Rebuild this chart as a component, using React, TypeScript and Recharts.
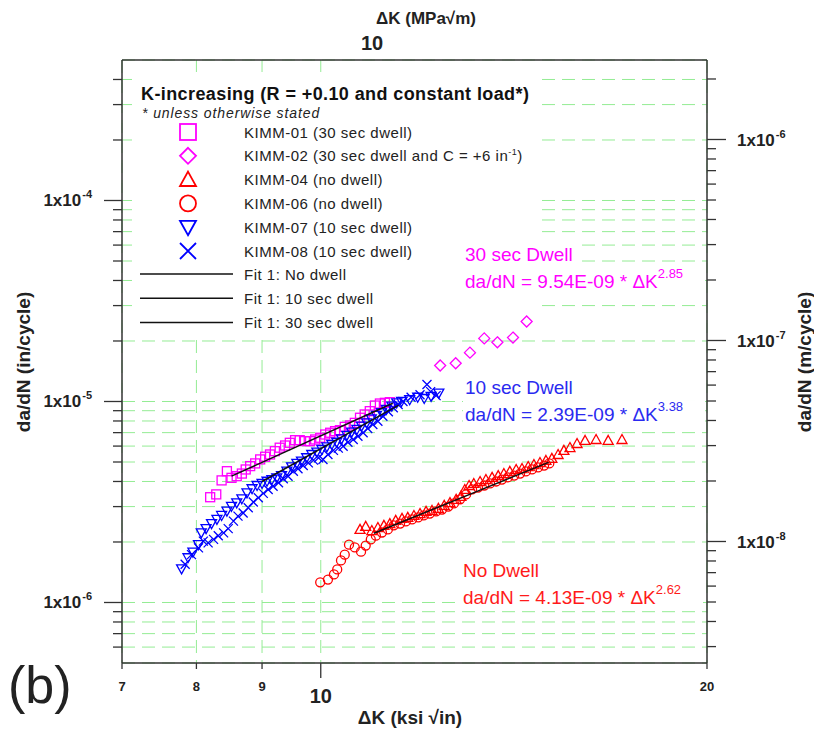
import React from 'react';
import { CartesianGrid, ComposedChart, Scatter, XAxis, YAxis } from 'recharts';

const FONT = '"Liberation Sans", Arial, sans-serif';
const MAGENTA = '#ff00ff';
const RED = '#ff0000';
const BLUE = '#0000ff';
const GRID = '#94ec94';
const AXIS = '#333';

// ΔK (ksi√in), da/dN (in/cycle)
const kimm01: [number, number][] = [
  [8.2, 3.34e-6], [8.29, 3.45e-6], [8.37, 4.05e-6], [8.45, 4.5e-6], [8.52, 4.17e-6],
  [8.6, 4.25e-6], [8.68, 4.38e-6], [8.74, 4.59e-6], [8.81, 4.77e-6], [8.89, 4.92e-6],
  [8.97, 5.15e-6], [9.05, 5.31e-6], [9.13, 5.45e-6], [9.21, 5.66e-6], [9.29, 5.89e-6],
  [9.38, 6.04e-6], [9.46, 6.23e-6], [9.55, 6.42e-6], [9.63, 6.42e-6], [9.72, 6.35e-6],
  [9.81, 6.35e-6], [9.9, 6.47e-6], [9.99, 6.6e-6], [10.08, 6.85e-6], [10.17, 6.99e-6],
  [10.26, 7.12e-6], [10.35, 7.2e-6], [10.44, 7.48e-6], [10.54, 7.6e-6], [10.63, 7.83e-6],
  [10.73, 8.3e-6], [10.82, 8.62e-6], [10.92, 8.95e-6], [11.02, 9.55e-6], [11.12, 9.77e-6],
  [11.22, 9.85e-6], [11.32, 9.92e-6],
];

const kimm02: [number, number][] = [
  [12.39, 1.51e-5], [12.74, 1.55e-5], [13.07, 1.75e-5], [13.41, 2.06e-5],
  [13.73, 1.97e-5], [14.12, 2.08e-5], [14.47, 2.5e-5],
];

const kimm04: [number, number][] = [
  [10.73, 2.31e-6], [10.84, 2.39e-6], [10.96, 2.28e-6], [11.08, 2.36e-6], [11.2, 2.42e-6],
  [11.32, 2.47e-6], [11.44, 2.56e-6], [11.57, 2.62e-6], [11.69, 2.65e-6], [11.82, 2.71e-6],
  [11.95, 2.77e-6], [12.08, 2.84e-6], [12.21, 2.87e-6], [12.35, 2.94e-6], [12.48, 3.04e-6],
  [12.61, 3.14e-6], [12.75, 3.26e-6], [12.86, 3.37e-6], [12.95, 3.65e-6], [13.05, 3.82e-6],
  [13.16, 3.91e-6], [13.31, 4.0e-6], [13.45, 4.09e-6], [13.6, 4.19e-6], [13.75, 4.28e-6],
  [13.89, 4.38e-6], [14.04, 4.49e-6], [14.2, 4.59e-6], [14.35, 4.64e-6], [14.51, 4.75e-6],
  [14.66, 4.86e-6], [14.82, 4.97e-6], [14.98, 5.09e-6], [15.14, 5.21e-6], [15.31, 5.45e-6],
  [15.47, 5.71e-6], [15.64, 5.9e-6], [15.84, 6.18e-6], [16.07, 6.4e-6], [16.39, 6.47e-6],
  [16.75, 6.4e-6], [17.17, 6.47e-6],
];

const kimm06: [number, number][] = [
  [9.99, 1.26e-6], [10.13, 1.3e-6], [10.24, 1.38e-6], [10.3, 1.46e-6], [10.37, 1.62e-6],
  [10.44, 1.73e-6], [10.52, 1.94e-6], [10.63, 1.88e-6], [10.75, 1.79e-6], [10.84, 1.92e-6],
  [10.94, 2.06e-6], [11.04, 2.15e-6], [11.16, 2.23e-6], [11.28, 2.31e-6], [11.4, 2.42e-6],
  [11.53, 2.47e-6], [11.65, 2.53e-6], [11.78, 2.59e-6], [11.91, 2.65e-6], [12.03, 2.71e-6],
  [12.16, 2.77e-6], [12.3, 2.84e-6], [12.43, 2.9e-6], [12.57, 3.0e-6], [12.7, 3.11e-6],
  [12.84, 3.26e-6], [12.98, 3.45e-6], [13.12, 3.65e-6], [13.26, 3.73e-6], [13.41, 3.82e-6],
  [13.55, 3.91e-6], [13.7, 4.0e-6], [13.84, 4.09e-6], [13.99, 4.19e-6], [14.15, 4.28e-6],
  [14.3, 4.38e-6], [14.45, 4.49e-6], [14.61, 4.59e-6], [14.77, 4.7e-6], [14.93, 4.8e-6],
  [15.07, 4.92e-6],
];

const kimm07: [number, number][] = [
  [7.79, 1.47e-6], [7.88, 1.67e-6], [7.95, 1.78e-6], [8.03, 1.94e-6], [8.07, 2.22e-6],
  [8.14, 2.33e-6], [8.22, 2.47e-6], [8.3, 2.59e-6], [8.37, 2.71e-6], [8.45, 2.85e-6],
  [8.52, 3.01e-6], [8.6, 3.13e-6], [8.68, 3.28e-6], [8.76, 3.51e-6], [8.84, 3.68e-6],
  [8.92, 3.82e-6], [9.0, 3.91e-6], [9.08, 4.01e-6], [9.16, 4.09e-6], [9.24, 4.17e-6],
  [9.32, 4.28e-6], [9.41, 4.5e-6], [9.49, 4.73e-6], [9.58, 4.92e-6], [9.66, 5.05e-6],
  [9.75, 5.25e-6], [9.84, 5.45e-6], [9.93, 5.6e-6], [10.02, 5.77e-6], [10.11, 5.95e-6],
  [10.2, 6.11e-6], [10.29, 6.27e-6], [10.38, 6.52e-6], [10.48, 6.78e-6], [10.57, 7.04e-6],
  [10.67, 7.26e-6], [10.76, 7.54e-6], [10.86, 7.83e-6], [10.95, 8.2e-6], [11.05, 8.52e-6],
  [11.15, 8.79e-6], [11.25, 9.13e-6], [11.36, 9.48e-6], [11.46, 9.85e-6], [11.56, 1.0e-5],
  [11.73, 1.02e-5], [11.9, 1.05e-5], [12.04, 1.035e-5], [12.19, 1.06e-5], [12.36, 1.1e-5],
];

const kimm08: [number, number][] = [
  [7.84, 1.55e-6], [7.93, 1.73e-6], [8.03, 1.87e-6], [8.1, 2.02e-6], [8.17, 1.98e-6],
  [8.25, 2.06e-6], [8.32, 2.15e-6], [8.4, 2.22e-6], [8.47, 2.33e-6], [8.55, 2.54e-6],
  [8.62, 2.69e-6], [8.7, 2.79e-6], [8.78, 2.96e-6], [8.86, 3.16e-6], [8.94, 3.32e-6],
  [9.02, 3.49e-6], [9.1, 3.65e-6], [9.18, 3.79e-6], [9.27, 3.94e-6], [9.35, 4.13e-6],
  [9.43, 4.25e-6], [9.52, 4.5e-6], [9.6, 4.63e-6], [9.69, 4.8e-6], [9.78, 4.95e-6],
  [9.87, 5.11e-6], [9.96, 5.25e-6], [10.04, 5.15e-6], [10.13, 5.45e-6], [10.23, 5.71e-6],
  [10.32, 5.86e-6], [10.41, 5.99e-6], [10.5, 6.27e-6], [10.6, 6.47e-6], [10.69, 6.72e-6],
  [10.79, 6.99e-6], [10.88, 7.34e-6], [10.98, 7.68e-6], [11.08, 7.98e-6], [11.18, 8.45e-6],
  [11.29, 8.89e-6], [11.39, 9.3e-6], [11.49, 9.66e-6], [11.59, 1.0e-5], [11.76, 1.05e-5],
  [11.95, 1.08e-5], [12.1, 1.215e-5], [12.18, 1.12e-5], [12.3, 1.07e-5],
];

// fit line end points
const fitNoDwell: [number, number][] = [[11.0, 2.21e-6], [15.05, 4.98e-6]];
const fit10: [number, number][] = [[9.0, 4.0e-6], [11.5, 9.6e-6]];
const fit30: [number, number][] = [[8.52, 4.25e-6], [11.38, 9.8e-6]];

const bottomTicks = [7, 8, 9, 10, 20];
const topTicks = [7.5, 8.43, 9.32, 10.2, 11.03, 18.65];
const leftTicks = [
  6e-7, 7e-7, 8e-7, 9e-7, 1e-6, 2e-6, 3e-6, 4e-6, 5e-6, 6e-6, 7e-6, 8e-6, 9e-6,
  1e-5, 2e-5, 3e-5, 4e-5, 5e-5, 6e-5, 7e-5, 8e-5, 9e-5, 1e-4, 2e-4, 3e-4, 4e-4,
];
const rightTicks = [
  3e-9, 4e-9, 5e-9, 6e-9, 7e-9, 8e-9, 9e-9, 1e-8, 2e-8, 3e-8, 4e-8, 5e-8, 6e-8, 7e-8,
  8e-8, 9e-8, 1e-7, 2e-7, 3e-7, 4e-7, 5e-7, 6e-7, 7e-7, 8e-7, 9e-7, 1e-6, 2e-6,
];
const leftDomain = [5e-7, 5e-4];
const rightDomain = [2.486e-9, 2.486e-6];

const pts = (rows: [number, number][]) => rows.map(([k, v]) => ({ k, v }));

type Kind = 'square' | 'diamond' | 'up' | 'circle' | 'down' | 'cross';

const Marker = ({ kind, color, size, cx, cy, sw = 1.3 }: any) => {
  const h = size / 2;
  const common = { fill: 'none', stroke: color, strokeWidth: sw };
  switch (kind as Kind) {
    case 'square':
      return <rect x={cx - h} y={cy - h} width={size} height={size} {...common} />;
    case 'diamond':
      return <path d={`M${cx},${cy - h}L${cx + h},${cy}L${cx},${cy + h}L${cx - h},${cy}Z`} {...common} />;
    case 'up':
      return <path d={`M${cx},${cy - h}L${cx + h},${cy + h * 0.8}L${cx - h},${cy + h * 0.8}Z`} {...common} />;
    case 'down':
      return <path d={`M${cx},${cy + h}L${cx + h},${cy - h * 0.8}L${cx - h},${cy - h * 0.8}Z`} {...common} />;
    case 'circle':
      return <circle cx={cx} cy={cy} r={h} {...common} />;
    default:
      return (
        <path d={`M${cx - h},${cy - h}L${cx + h},${cy + h}M${cx - h},${cy + h}L${cx + h},${cy - h}`} {...common} />
      );
  }
};

const shape = (kind: Kind, color: string, size: number) => (p: any) =>
  <Marker kind={kind} color={color} size={size} cx={p.cx} cy={p.cy} />;

const NoDot = () => <g />;

const isDecade = (v: number) => Math.abs(Math.log10(v) - Math.round(Math.log10(v))) < 1e-6;

const Pow = ({ x, y, exp, anchor }: any) => (
  <text x={x} y={y} textAnchor={anchor} fontFamily={FONT} fontWeight="bold" fontSize={17} fill="#222">
    1x10<tspan dx={1} dy={-8} fontSize={11}>{exp}</tspan>
  </text>
);

const LeftTick = ({ x, y, payload }: any) => {
  const v = payload.value;
  const big = isDecade(v);
  return (
    <g>
      <line x1={x} y1={y} x2={x - (big ? 18 : 9)} y2={y} stroke={AXIS} strokeWidth={1.3} />
      {big && <Pow x={x - 30} y={y + 6} exp={Math.round(Math.log10(v))} anchor="end" />}
    </g>
  );
};

const RightTick = ({ x, y, payload }: any) => {
  const v = payload.value;
  const big = isDecade(v);
  return (
    <g>
      <line x1={x} y1={y} x2={x + (big ? 19 : 9)} y2={y} stroke={AXIS} strokeWidth={1.3} />
      {big && <Pow x={x + 30} y={y + 7} exp={Math.round(Math.log10(v))} anchor="start" />}
    </g>
  );
};

const BottomTick = ({ x, y, payload }: any) => {
  const big = payload.value === 10;
  return (
    <g>
      <line x1={x} y1={y} x2={x} y2={y + (big ? 15 : 6)} stroke={AXIS} strokeWidth={1.3} />
      <text x={x} y={y + (big ? 40 : 28)} textAnchor="middle" fontFamily={FONT} fontWeight="bold"
        fontSize={big ? 20 : 13} fill="#222">
        {payload.value}
      </text>
    </g>
  );
};

const TopTick = ({ x, y }: any) => (
  <line x1={x} y1={y + 3} x2={x} y2={y - 5} stroke={AXIS} strokeWidth={1.3} />
);

const legendRows: { label: React.ReactNode; kind: Kind; color: string }[] = [
  { label: 'KIMM-01 (30 sec dwell)', kind: 'square', color: MAGENTA },
  { label: <>KIMM-02 (30 sec dwell and C = +6 in<tspan dy={-6} fontSize={9}>-1</tspan><tspan dy={6}>)</tspan></>, kind: 'diamond', color: MAGENTA },
  { label: 'KIMM-04 (no dwell)', kind: 'up', color: RED },
  { label: 'KIMM-06 (no dwell)', kind: 'circle', color: RED },
  { label: 'KIMM-07 (10 sec dwell)', kind: 'down', color: BLUE },
  { label: 'KIMM-08 (10 sec dwell)', kind: 'cross', color: BLUE },
];
const fitRows = ['Fit 1: No dwell', 'Fit 1: 10 sec dwell', 'Fit 1: 30 sec dwell'];

const Note = ({ x, y, color, title, coef, exp }: any) => (
  <g fontFamily={FONT}>
    <rect x={x - 2} y={y - 20} width={title.length * 9.4} height={26} fill="#fff" />
    <rect x={x - 2} y={y + 7} width={242} height={26} fill="#fff" />
    <text x={x} y={y} fontSize={19} fill={color}>{title}</text>
    <text x={x} y={y + 27} fontSize={19} fill={color}>
      {`da/dN = ${coef} * \u0394K`}
      <tspan dy={-10} fontSize={13}>{exp}</tspan>
    </text>
  </g>
);

const Overlay = () => (
  <svg width={814} height={731} style={{ position: 'absolute', left: 0, top: 0, pointerEvents: 'none' }}>
    <rect x={132} y={72} width={406} height={240} fill="#fff" />
    <rect x={132} y={311} width={210} height={26} fill="#fff" />
    <text x={141} y={100} fontFamily={FONT} fontWeight="bold" fontSize={18} letterSpacing={0.4} fill="#111">
      K-increasing (R = +0.10 and constant load*)
    </text>
    <text x={142} y={118} fontFamily={FONT} fontStyle="italic" fontSize={14} letterSpacing={0.9} fill="#222">
      * unless otherwise stated
    </text>
    {legendRows.map((r, i) => {
      const cy = 132 + i * 23.8;
      return (
        <g key={i}>
          <Marker kind={r.kind} color={r.color} size={16} cx={188} cy={cy} sw={1.8} />
          <text x={244} y={cy + 5.5} fontFamily={FONT} fontSize={15} letterSpacing={0.5} fill="#222">
            {r.label}
          </text>
        </g>
      );
    })}
    {fitRows.map((t, i) => {
      const cy = 274 + i * 24.3;
      return (
        <g key={t}>
          <line x1={140} y1={cy} x2={233} y2={cy} stroke="#111" strokeWidth={1.5} />
          <text x={244} y={cy + 5.5} fontFamily={FONT} fontSize={15} letterSpacing={0.5} fill="#222">
            {t}
          </text>
        </g>
      );
    })}
    <Note x={465} y={261} color={MAGENTA} title="30 sec Dwell" coef="9.54E-09" exp="2.85" />
    <Note x={465} y={394} color="#2a2af0" title="10 sec Dwell" coef="2.39E-09" exp="3.38" />
    <Note x={463} y={577} color="#ff1a1a" title="No Dwell" coef=" 4.13E-09" exp="2.62" />

    <text x={372} y={50} textAnchor="middle" fontFamily={FONT} fontWeight="bold" fontSize={20} fill="#222">10</text>
    <text x={376} y={24} fontFamily={FONT} fontWeight="bold" fontSize={17} fill="#222">{'\u0394K (MPa\u221Am)'}</text>
    <text x={410} y={724} textAnchor="middle" fontFamily={FONT} fontWeight="bold" fontSize={19} fill="#222">
      {'\u0394K (ksi \u221Ain)'}
    </text>
    <text transform="translate(30,362) rotate(-90)" textAnchor="middle" fontFamily={FONT} fontWeight="bold"
      fontSize={19} fill="#222">
      da/dN (in/cycle)
    </text>
    <text transform="translate(811,362) rotate(-90)" textAnchor="middle" fontFamily={FONT} fontWeight="bold"
      fontSize={19} fill="#222">
      da/dN (m/cycle)
    </text>
    <text x={8} y={703} fontFamily={FONT} fontSize={52} fill="#222">(b)</text>
  </svg>
);

export default function App() {
  const axisLine = { stroke: AXIS, strokeWidth: 1.5 };
  return (
    <div style={{ position: 'absolute', left: 0, top: 0, width: 814, height: 731, background: '#fff' }}>
      <ComposedChart width={814} height={731} margin={{ top: 40, right: 27, bottom: 18, left: 42 }}>
        <CartesianGrid stroke={GRID} strokeDasharray="13 7" />
        <XAxis dataKey="k" type="number" scale="log" domain={[7, 20]} allowDataOverflow ticks={bottomTicks}
          interval={0} height={50} tickSize={0} tickMargin={0} tickLine={false} axisLine={axisLine}
          tick={<BottomTick />} />
        <XAxis xAxisId="top" orientation="top" type="number" scale="log" domain={[7, 20]} allowDataOverflow
          ticks={topTicks} interval={0} height={20} tickSize={0} tickMargin={0} tickLine={false}
          axisLine={axisLine} tick={<TopTick />} />
        <YAxis dataKey="v" type="number" scale="log" domain={leftDomain} allowDataOverflow ticks={leftTicks}
          interval={0} width={80} tickSize={0} tickMargin={0} tickLine={false} axisLine={axisLine}
          tick={<LeftTick />} />
        <YAxis yAxisId="right" orientation="right" type="number" scale="log" domain={rightDomain}
          allowDataOverflow ticks={rightTicks} interval={0} width={80} tickSize={0} tickMargin={0}
          tickLine={false} axisLine={axisLine} tick={<RightTick />} />

        <Scatter data={pts(kimm01)} shape={shape('square', MAGENTA, 9)} isAnimationActive={false} />
        <Scatter data={pts(kimm02)} shape={shape('diamond', MAGENTA, 11)} isAnimationActive={false} />
        <Scatter data={pts(kimm06)} shape={shape('circle', RED, 9)} isAnimationActive={false} />
        <Scatter data={pts(kimm04)} shape={shape('up', RED, 10)} isAnimationActive={false} />
        <Scatter data={pts(kimm08)} shape={shape('cross', BLUE, 9)} isAnimationActive={false} />
        <Scatter data={pts(kimm07)} shape={shape('down', BLUE, 10)} isAnimationActive={false} />

        <Scatter data={pts(fitNoDwell)} shape={NoDot} line={{ stroke: '#111', strokeWidth: 1.5 }}
          isAnimationActive={false} />
        <Scatter data={pts(fit10)} shape={NoDot} line={{ stroke: '#111', strokeWidth: 1.5 }}
          isAnimationActive={false} />
        <Scatter data={pts(fit30)} shape={NoDot} line={{ stroke: '#111', strokeWidth: 1.5 }}
          isAnimationActive={false} />
      </ComposedChart>
      <Overlay />
    </div>
  );
}
